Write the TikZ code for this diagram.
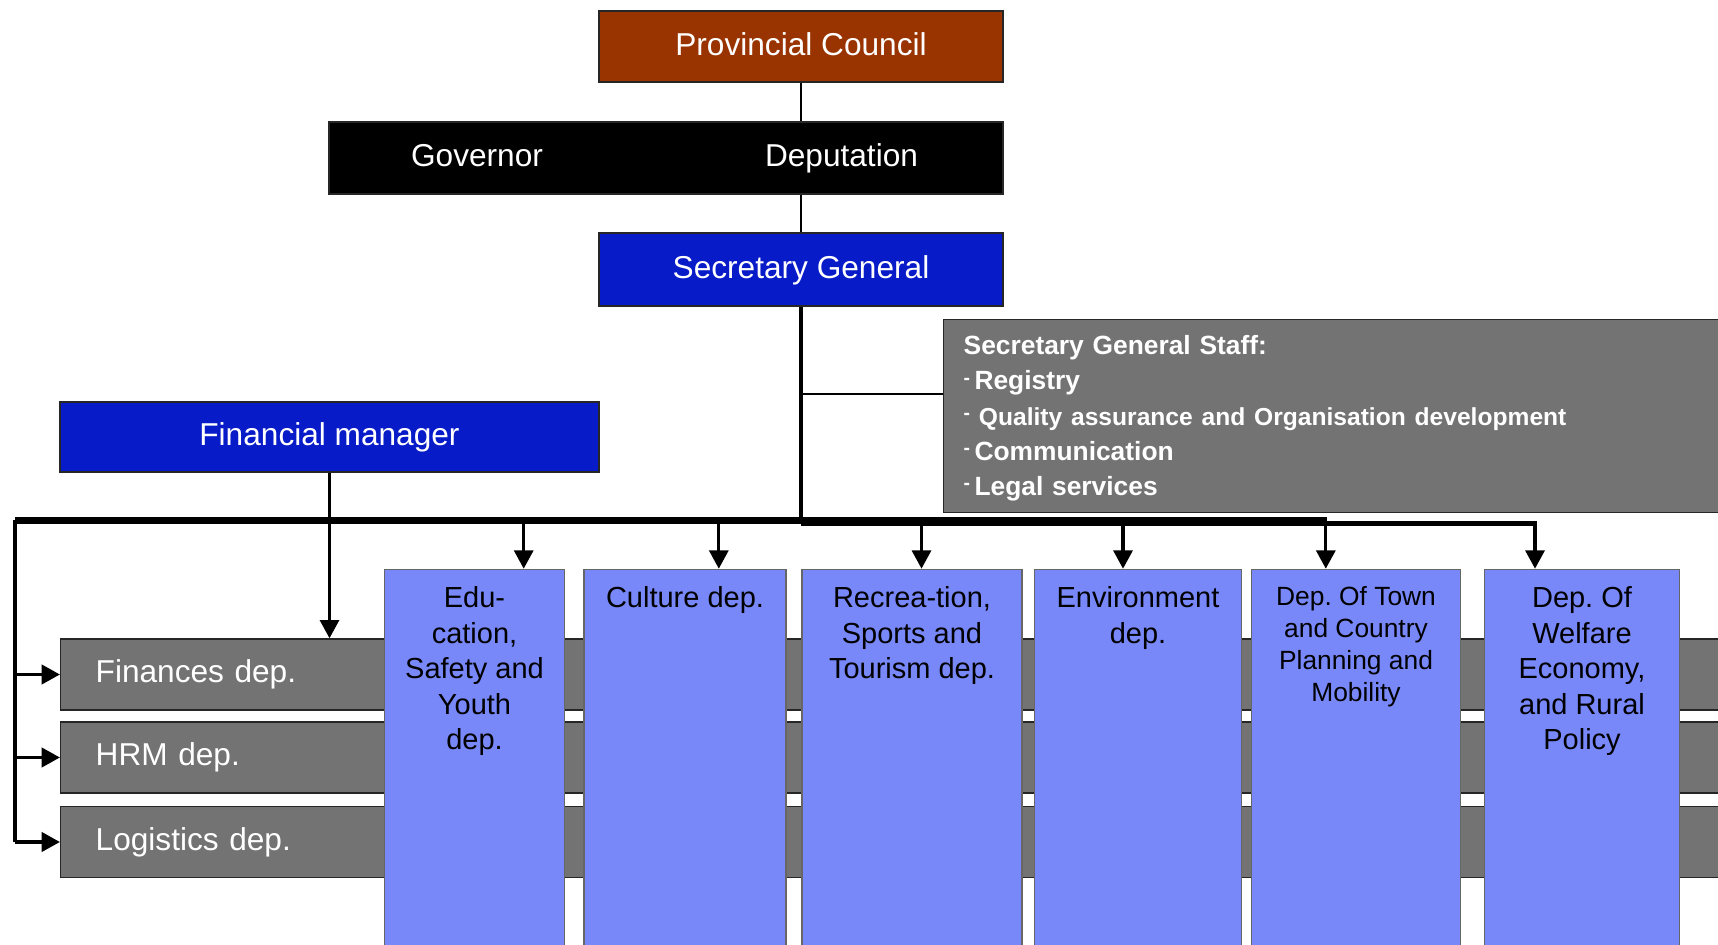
\documentclass[tikz,border=0pt]{standalone}
\usepackage{fontspec}
\setmainfont{Liberation Sans}
\usetikzlibrary{arrows.meta, positioning, calc}
\definecolor{councilred}{RGB}{153,51,0}
\definecolor{secblue}{RGB}{8,27,200}
\definecolor{depblue}{RGB}{120,136,248}
\definecolor{staffgray}{RGB}{115,115,115}
\newcommand{\fsz}[2]{\fontsize{#1}{#2}\selectfont}
\newcommand{\staffdash}{\raisebox{0.4ex}{\fsz{5.5}{6}-}\,}

\begin{document}
\frenchspacing
\begin{tikzpicture}[
    headbox/.style={draw=black!85, fill=#1, text=white, font=\fsz{9}{11}, inner sep=0pt,
        text height=0.75em, text depth=0.25em},
    rowbox/.style={draw=black!85, fill=staffgray, text=white, font=\fsz{9}{11}, anchor=west,
        minimum width=17cm, minimum height=0.71cm, text width=16.3cm, inner xsep=0.35cm, align=left},
    colbox/.style={draw=black!60, fill=depblue, anchor=north, minimum height=4cm, inner sep=0pt},
    coltext/.style={anchor=north, align=center, inner sep=0pt},
    thinline/.style={line width=0.4pt},
    downarrow/.style={line width=0.9pt, -{Triangle[length=5.2pt,width=5.4pt]}},
    sidearrow/.style={line width=1.1pt, -{Triangle[length=5.2pt,width=5.4pt]}}
]
    \useasboundingbox (0,0) rectangle (17.18,-9.45);

    \node[headbox=councilred, minimum width=4.04cm, minimum height=0.71cm] (council) at (8.01,-0.465) {Provincial Council};
    \node[headbox=black, minimum width=6.74cm, minimum height=0.72cm] (board) at (6.66,-1.58) {};
    \node[headbox=black, draw=none] (governor) at (4.77,-1.58) {Governor};
    \node[headbox=black, draw=none] (deputation) at (8.415,-1.58) {Deputation};
    \node[headbox=secblue, minimum width=4.04cm, minimum height=0.73cm] (sec) at (8.01,-2.695) {Secretary General};
    \node[headbox=secblue, minimum width=5.39cm, minimum height=0.70cm] (fm) at (3.295,-4.37) {Financial manager};

    \node[draw=black!85, fill=staffgray, text=white, font=\bfseries\fsz{7.5}{10}, anchor=north west,
        minimum height=1.93cm, text width=7.7cm, text height=6.6pt, inner xsep=0.2cm, align=left] (staff) at (9.43,-3.19)
        {Secretary General Staff:\\
         \staffdash Registry\\
         \staffdash\,{\fsz{7}{10}Quality assurance and Organisation development}\\
         \staffdash Communication\\
         \staffdash Legal services};

    \draw[thinline] (council.south) -- (council.south |- board.north);
    \draw[thinline] (council.south |- board.south) -- (sec.north);

    \coordinate (busleft) at (0.15,-5.205);
    \coordinate (busstep) at (13.27,-5.205);
    \coordinate (busright) at (15.35,-5.235);
    \coordinate (staffjoin) at (8.02,-3.94);
    \draw[line width=1.1pt] (sec.south) -- (sec.south |- busright);
    \draw[line width=0.45pt] (staffjoin) -- (staffjoin -| staff.west);
    \draw[line width=1.8pt] (busleft) -- (busstep);
    \draw[line width=1.4pt] (sec.south |- busright) -- (busright);

    \node[rowbox] (finrow) at (0.60,-6.745) {Finances dep.};
    \node[rowbox] (hrmrow) at (0.60,-7.575) {HRM dep.};
    \node[rowbox] (logrow) at (0.60,-8.42) {Logistics dep.};

    \draw[downarrow] (fm.south) -- (fm.south |- finrow.north);
    \draw[line width=1.1pt] (busleft) -- (busleft |- logrow.west);
    \foreach \r in {finrow,hrmrow,logrow}
        \draw[sidearrow] (busleft |- \r.west) -- (\r.west);

    \foreach \nm/\cx/\w/\ax/\fs/\lh/\txt in {
        edu/4.745/1.80/5.237/8.25/10.1/{Edu-\\cation,\\Safety and\\Youth\\dep.},
        culture/6.85/2.02/7.188/8.25/10.1/{Culture dep.},
        recreation/9.12/2.20/9.215/8.25/10.1/{Recrea-tion,\\Sports and\\Tourism dep.},
        environment/11.38/2.07/11.23/8.25/10.1/{Environment\\dep.},
        town/13.56/2.09/13.258/7.5/9.1/{Dep. Of Town\\and Country\\Planning and\\Mobility},
        welfare/15.82/1.95/15.35/8.25/10.1/{Dep. Of\\Welfare\\Economy,\\and Rural\\Policy}}{
        \node[colbox, minimum width=\w cm] (\nm) at (\cx,-5.687) {};
        \node[coltext, font=\fsz{\fs}{\lh}] (\nm text) at (\cx,-5.86) {\txt};
        \coordinate (\nm arrow) at (\ax,-5.21);
        \draw[downarrow] (\nm arrow) -- (\nm arrow |- \nm.north);
    }
\end{tikzpicture}
\end{document}
